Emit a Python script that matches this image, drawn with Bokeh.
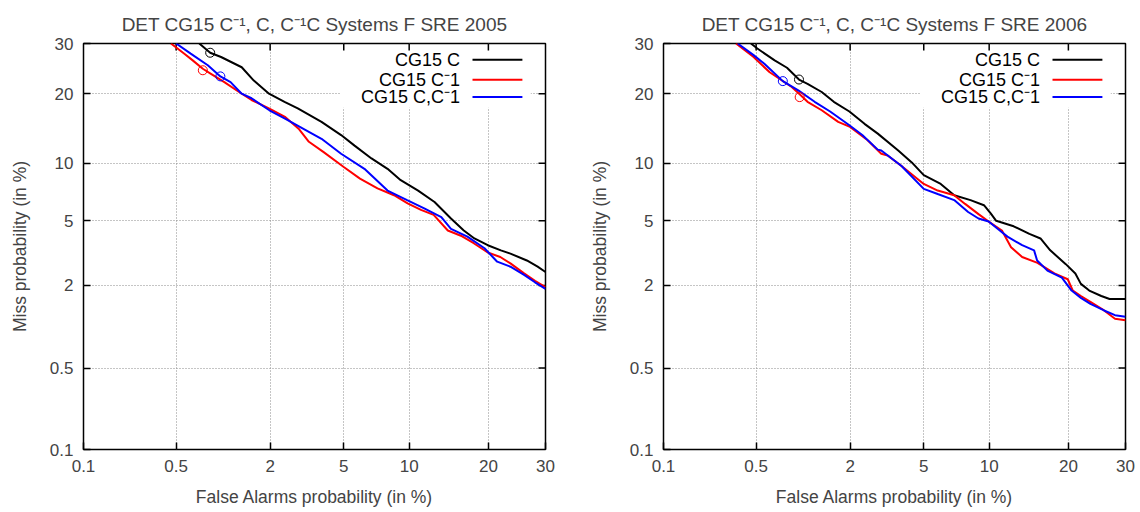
from statistics import NormalDist
from bokeh.plotting import figure
from bokeh.layouts import row
from bokeh.models import Range1d, FixedTicker, CustomJSTickFormatter, ColumnDataSource
from bokeh.core.properties import value
from bokeh.embed import file_html
from bokeh.resources import INLINE

# ---------------- data (percent) ----------------
TICKS = [0.1, 0.5, 2, 5, 10, 20, 30]
TICK_LABELS = ["0.1", "0.5", "2", "5", "10", "20", "30"]
GRID = [0.5, 2, 5, 10, 20]

SERIES_NAMES = ["CG15 C", "CG15 C\u207b1", "CG15 C,C\u207b1"]
COLORS = ["#000000", "#ff0000", "#0000ff"]

# SRE 2005
fa05_c = [0.72, 0.85, 1.0, 1.35, 1.6, 1.97, 2.42, 2.87, 3.85, 4.85, 5.65, 6.8, 8.05, 9.2, 10.9, 12.7, 14.7, 16.4, 17.9, 19.9, 22.0, 23.6, 26.5, 28.5, 30]
miss05_c = [30, 28, 27.1, 25.0, 22.4, 20.0, 18.6, 17.5, 15.4, 13.5, 12.1, 10.55, 9.4, 8.25, 7.3, 6.35, 5.15, 4.4, 3.95, 3.6, 3.35, 3.2, 2.9, 2.65, 2.45]
fa05_ci = [0.46, 0.57, 0.65, 0.76, 0.86, 1.05, 1.3, 1.55, 1.98, 2.45, 2.9, 3.3, 3.95, 5.0, 6.0, 7.25, 8.6, 9.85, 11.2, 12.6, 14.3, 16.0, 17.8, 19.9, 21.9, 23.6, 26.0, 28.0, 30]
miss05_ci = [30, 27.8, 26.4, 24.7, 23.7, 22.1, 20.3, 18.9, 17.45, 16.1, 14.4, 12.6, 11.3, 9.6, 8.4, 7.5, 6.9, 6.25, 5.75, 5.4, 4.4, 4.1, 3.7, 3.25, 3.05, 2.78, 2.4, 2.15, 1.95]
fa05_cc = [0.5, 0.63, 0.82, 0.99, 1.15, 1.35, 1.55, 1.98, 2.45, 2.98, 3.85, 4.85, 6.3, 8.05, 9.8, 11.6, 13.5, 14.7, 16.9, 19.4, 21.4, 23.6, 26.0, 28.0, 30]
miss05_cc = [30, 27.8, 25.4, 23.2, 22.1, 20.0, 19.2, 17.2, 15.85, 14.6, 13.0, 11.1, 9.4, 7.3, 6.5, 5.85, 5.25, 4.5, 4.05, 3.45, 2.85, 2.65, 2.35, 2.1, 1.9]
dcf05_fa = [0.85, 0.76, 0.99]
dcf05_miss = [28.0, 24.4, 23.2]

# SRE 2006
fa06_c = [0.46, 0.51, 0.67, 0.81, 0.97, 1.1, 1.35, 1.6, 1.98, 2.42, 2.87, 3.7, 4.35, 5.0, 6.05, 7.0, 8.3, 9.5, 10.15, 10.7, 12.6, 14.5, 15.95, 17.3, 19.6, 21.1, 22.0, 23.4, 25.5, 27.0, 30]
miss06_c = [30, 28.9, 26.4, 24.9, 22.6, 21.8, 20.3, 18.6, 17.0, 15.1, 13.7, 11.5, 10.1, 8.75, 7.9, 6.9, 6.5, 6.1, 5.5, 5.0, 4.65, 4.2, 3.95, 3.35, 2.75, 2.4, 2.05, 1.85, 1.7, 1.62, 1.62]
fa06_ci = [0.36, 0.48, 0.62, 0.87, 0.98, 1.1, 1.35, 1.7, 1.98, 2.52, 3.0, 3.25, 3.85, 5.0, 5.85, 7.0, 7.85, 9.0, 9.95, 11.3, 12.3, 13.6, 15.55, 17.9, 19.9, 20.7, 22.0, 23.6, 26.0, 28.0, 30]
miss06_ci = [30, 27.1, 24.0, 21.2, 19.9, 18.6, 17.2, 15.4, 14.7, 12.8, 11.1, 10.9, 9.7, 7.9, 7.3, 6.9, 6.2, 5.45, 4.95, 4.4, 3.5, 3.05, 2.8, 2.4, 2.2, 1.85, 1.7, 1.55, 1.35, 1.18, 1.15]
fa06_cc = [0.37, 0.48, 0.57, 0.76, 0.96, 1.22, 1.52, 1.98, 2.35, 2.87, 3.0, 3.85, 5.0, 5.85, 7.0, 8.1, 9.0, 9.95, 10.85, 11.9, 13.6, 15.1, 15.5, 16.9, 19.0, 20.5, 22.0, 23.6, 26.0, 28.0, 30]
miss06_cc = [30, 27.5, 25.7, 22.3, 20.6, 18.6, 17.0, 14.9, 13.5, 11.6, 11.5, 9.7, 7.45, 7.0, 6.5, 5.6, 5.15, 4.95, 4.5, 4.05, 3.6, 3.35, 2.9, 2.5, 2.25, 1.85, 1.65, 1.5, 1.35, 1.25, 1.22]
dcf06_fa = [0.97, 0.98, 0.76]
dcf06_miss = [22.6, 19.4, 22.3]

FONT = "Liberation Sans"
_nd = NormalDist()

FRAME_W = 462.0   # plot-area size in px, used to size the mirrored ticks
FRAME_H = 406.0
TICK_LEN = 7.0


def probit(vals):
    return [_nd.inv_cdf(v / 100.0) for v in vals]


def make_panel(title, series, dcf_fa, dcf_miss, border_left, border_right):
    lo, hi = probit([TICKS[0], TICKS[-1]])
    p = figure(width=570, height=512, x_range=Range1d(lo, hi), y_range=Range1d(lo, hi),
               output_backend="svg", toolbar_location=None,
               min_border_left=border_left, min_border_right=border_right,
               min_border_top=43, min_border_bottom=63,
               x_axis_label="False Alarms probability (in %)",
               y_axis_label="Miss probability (in %)")
    p.title.text = title
    p.title.align = "center"
    p.title.text_font = FONT
    p.title.text_font_style = "normal"
    p.title.text_font_size = "19px"
    p.title.standoff = 18
    p.outline_line_color = "black"
    p.outline_line_width = 1.5
    p.background_fill_color = "white"
    p.border_fill_color = "white"

    tick_vals = probit(TICKS)
    fmt = CustomJSTickFormatter(args=dict(tvals=tick_vals, tlabels=TICK_LABELS), code="""
        let b = 0;
        for (let i = 0; i < tvals.length; i++) {
            if (Math.abs(tvals[i] - tick) < Math.abs(tvals[b] - tick)) { b = i; }
        }
        return tlabels[b];
    """)
    for ax in list(p.xaxis) + list(p.yaxis):
        ax.ticker = FixedTicker(ticks=tick_vals)
        ax.formatter = fmt
        ax.major_tick_in = int(TICK_LEN)
        ax.major_tick_out = 0
        ax.minor_tick_in = 0
        ax.minor_tick_out = 0
        ax.axis_line_color = None
        ax.major_tick_line_color = "black"
        ax.major_tick_line_width = 1.5
        ax.major_label_text_font = FONT
        ax.major_label_text_font_size = "17px"
        ax.major_label_standoff = 10
        ax.axis_label_text_font = FONT
        ax.axis_label_text_font_style = "normal"
        ax.axis_label_text_font_size = "17.5px"
    p.xaxis.axis_label_standoff = 12
    p.yaxis.axis_label_standoff = 17

    for g in (p.xgrid, p.ygrid):
        g.ticker = FixedTicker(ticks=probit(GRID))
        g.grid_line_color = "#8a8a8a"
        g.grid_line_dash = "1 2"
        g.grid_line_width = 1

    span = hi - lo

    def fx(f):
        return lo + f * span

    def fy(f):
        return hi - f * span

    # key background (opaque key)
    p.quad(left=[fx(0.557)], right=[fx(0.968)], top=[fy(0.004)], bottom=[fy(0.158)],
           fill_color="white", line_color=None)

    # mirrored ticks on the top and right borders
    inner = tick_vals[1:-1]
    dy = TICK_LEN / FRAME_H * span
    dx = TICK_LEN / FRAME_W * span
    p.segment(x0=inner, y0=[hi] * len(inner), x1=inner, y1=[hi - dy] * len(inner),
              line_color="black", line_width=1.5)
    p.segment(x0=[hi] * len(inner), y0=inner, x1=[hi - dx] * len(inner), y1=inner,
              line_color="black", line_width=1.5)

    for (fa, miss), color in zip(series, COLORS):
        p.line(probit(fa), probit(miss), line_color=color, line_width=2)

    p.scatter(probit(dcf_fa), probit(dcf_miss), marker="circle", size=9,
              fill_color=None, line_color=COLORS, line_width=1)

    rows = [0.040, 0.089, 0.132]
    key = ColumnDataSource(dict(
        x=[fx(0.815)] * 3, y=[fy(r) for r in rows], text=SERIES_NAMES,
        x0=[fx(0.842)] * 3, x1=[fx(0.95)] * 3, color=COLORS))
    p.text(x="x", y="y", text="text", source=key, text_align="right", text_baseline="middle",
           text_font=value(FONT), text_font_size=value("18px"), text_color="black")
    p.segment(x0="x0", y0="y", x1="x1", y1="y", source=key, line_color="color", line_width=2)
    return p


p1 = make_panel("DET CG15 C\u207b\u00b9, C, C\u207b\u00b9C Systems F SRE 2005",
                [(fa05_c, miss05_c), (fa05_ci, miss05_ci), (fa05_cc, miss05_cc)],
                dcf05_fa, dcf05_miss, 83, 25)
p2 = make_panel("DET CG15 C\u207b\u00b9, C, C\u207b\u00b9C Systems F SRE 2006",
                [(fa06_c, miss06_c), (fa06_ci, miss06_ci), (fa06_cc, miss06_cc)],
                dcf06_fa, dcf06_miss, 93, 15)

layout = row(p1, p2)
open("out.html", "w").write(file_html(layout, INLINE))
